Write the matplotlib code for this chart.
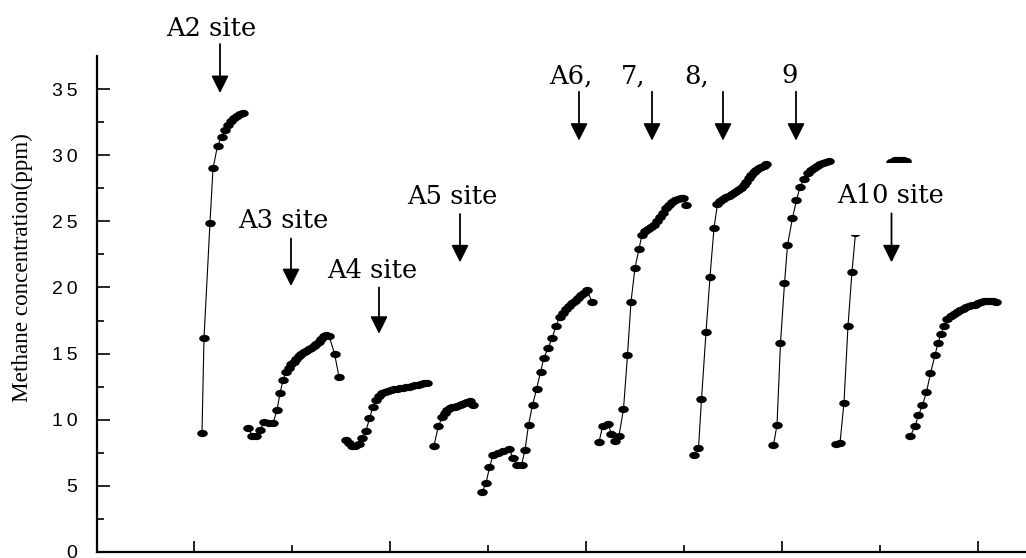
import numpy as np
import matplotlib
matplotlib.use('Agg')
import matplotlib.pyplot as plt
from matplotlib.path import Path
from matplotlib.transforms import Affine2D
from matplotlib.patches import Rectangle

# sampling position (arbitrary time units) and methane concentration (ppm), one run per site
a2_t = [105, 107, 113, 116, 120.5, 124.5, 128, 131, 134, 137, 140, 143, 146]
a2_c = [9.0, 16.2, 24.9, 29.0, 30.7, 31.4, 31.9, 32.3, 32.6, 32.8, 33.0, 33.1, 33.2]

a3_t = [151.5, 155, 159, 163, 167, 171.5, 176, 180, 183, 186, 189, 191.5, 194, 196.5,
        199, 201.5, 204, 206.5, 209, 211.5, 214, 216.5, 219, 221.5, 224, 226.5, 229,
        232, 237.5, 242]
a3_c = [9.4, 8.8, 8.8, 9.25, 9.8, 9.75, 9.75, 10.7, 12.0, 13.0, 13.6, 13.9, 14.2, 14.4,
        14.6, 14.8, 14.95, 15.1, 15.2, 15.35, 15.45, 15.6, 15.75, 15.9, 16.1, 16.3, 16.4,
        16.35, 15.0, 13.25]

a4_t = [248.5, 251.5, 255, 258.5, 262, 265.5, 269, 272.5, 276, 279, 282, 285, 288, 291,
        294, 297, 300, 303, 306, 309, 312, 315, 318, 321, 324, 327, 330]
a4_c = [8.5, 8.25, 8.05, 8.0, 8.2, 8.65, 9.15, 10.1, 11.0, 11.5, 11.8, 12.0, 12.1, 12.2,
        12.25, 12.3, 12.35, 12.4, 12.4, 12.45, 12.5, 12.55, 12.6, 12.65, 12.7, 12.75, 12.8]

a5_t = [337, 341.5, 345.5, 348, 350.5, 353, 355.5, 358, 360.5, 363, 365.5, 368, 370.5,
        373, 376.5]
a5_c = [8.05, 9.55, 10.2, 10.5, 10.7, 10.85, 10.95, 11.0, 11.05, 11.1, 11.2, 11.3, 11.35,
        11.4, 11.15]

a6_t = [385, 389, 392.5, 396, 401, 406, 412, 416, 420, 424.5, 428, 431.5, 435.5, 439.5,
        443.5, 447, 451, 455, 459, 463, 466, 469, 472, 475, 478, 481, 484, 487, 490, 495]
a6_c = [4.5, 5.2, 6.4, 7.3, 7.45, 7.6, 7.8, 7.1, 6.6, 6.6, 7.7, 9.6, 11.1, 12.3, 13.6,
        14.7, 15.4, 16.15, 17.1, 17.8, 18.1, 18.35, 18.6, 18.8, 19.0, 19.2, 19.4, 19.6,
        19.8, 18.9]

a7_t = [502, 505.5, 511, 514.5, 518.5, 522, 526.5, 530.5, 534, 538, 542, 545, 548, 551,
        554, 557, 560, 563, 566, 569, 572, 575, 578, 581, 584, 586.5, 589.5]
a7_c = [8.3, 9.5, 9.65, 8.95, 8.4, 8.8, 10.8, 14.9, 18.9, 21.5, 22.9, 24.0, 24.3, 24.45,
        24.6, 24.75, 25.0, 25.3, 25.65, 26.0, 26.25, 26.45, 26.6, 26.7, 26.8, 26.8, 26.2]

a8_t = [597, 601.5, 604.5, 609, 613, 617, 620.5, 623.5, 626.5, 629.5, 632.5, 635.5,
        638.5, 641.5, 644.5, 647, 649.5, 652, 654.5, 657, 659.5, 662, 664.5, 667, 669.5]
a8_c = [7.35, 7.85, 11.55, 16.6, 20.8, 24.5, 26.3, 26.55, 26.7, 26.85, 26.95, 27.1, 27.2,
        27.35, 27.5, 27.75, 28.0, 28.25, 28.5, 28.7, 28.85, 29.0, 29.1, 29.2, 29.3]

a9_t = [676.5, 680, 683.5, 687.5, 690.5, 695.5, 699.5, 703, 707, 711, 714, 717, 720, 723,
        726, 729, 732]
a9_c = [8.1, 9.6, 15.8, 20.3, 23.2, 25.25, 26.6, 27.6, 28.2, 28.65, 28.9, 29.05, 29.2,
        29.3, 29.4, 29.5, 29.55]

a10_t = [739, 743, 747, 751, 755, 758.5, 762, 766, 770, 775, 780, 785, 790, 794, 798,
         802, 806, 809]
a10_c = [8.15, 8.25, 11.3, 17.1, 21.2, 24.1, 26.4, 27.7, 28.4, 28.8, 29.0, 29.05, 29.1,
         29.45, 29.6, 29.65, 29.6, 29.55]

a11_t = [813.5, 818, 821.5, 825.5, 829.5, 833.5, 838, 841, 844, 847, 850.5, 854, 857,
         860, 863, 866, 869, 872, 875, 878, 881, 884, 887, 890, 893, 896, 899]
a11_c = [8.8, 9.5, 10.35, 11.1, 12.1, 13.5, 14.9, 15.8, 16.5, 17.05, 17.6, 17.85, 18.0,
         18.15, 18.3, 18.4, 18.5, 18.6, 18.65, 18.7, 18.8, 18.9, 18.95, 19.0, 18.95, 18.95,
         18.9]

runs = [(a2_t, a2_c), (a3_t, a3_c), (a4_t, a4_c), (a5_t, a5_c), (a6_t, a6_c),
        (a7_t, a7_c), (a8_t, a8_c), (a9_t, a9_c), (a10_t, a10_c), (a11_t, a11_c)]

# label, text x, text baseline y, arrow x, arrow tail y, arrow tip y
notes = [
    ('A2 site', 114, 39.0, 123, 38.4, 34.7),
    ('A3 site', 186, 24.5, 194, 23.7, 20.1),
    ('A4 site', 275, 20.7, 282, 20.0, 16.5),
    ('A5 site', 355, 26.3, 363, 25.55, 21.9),
    ('A6,', 474, 35.45, 482, 34.8, 31.1),
    ('7,', 536, 35.45, 555, 34.8, 31.1),
    ('8,', 600, 35.45, 626, 34.8, 31.1),
    ('9', 693, 35.45, 699, 34.8, 31.1),
    ('A10 site', 793.5, 26.35, 794.5, 25.6, 21.9),
]

fig = plt.figure(figsize=(10.26, 5.58), dpi=100)
ax = fig.add_axes([97 / 1026, 6 / 558, 929 / 1026, 496 / 558])

ell = Affine2D().scale(1.45, 1.0).transform_path(Path.unit_circle())
for t, c in runs:
    ax.plot(t, c, color='black', lw=0.8, marker=ell, markersize=7.6,
            markerfacecolor='black', markeredgewidth=0, zorder=2)

# white label box of the A10 annotation hides part of the run behind it
ax.add_patch(Rectangle((739, 24.0), 109, 5.4, facecolor='white', edgecolor='none', zorder=2.5))

for lab, tx, ty, axx, y0, y1 in notes:
    ax.text(tx, ty, lab, ha='center', va='baseline', fontsize=18.5,
            family='DejaVu Serif', zorder=4, clip_on=False)
    ax.annotate('', xy=(axx, y1), xytext=(axx, y0), zorder=4, annotation_clip=False,
                arrowprops=dict(arrowstyle='-|>,head_length=0.7,head_width=0.35',
                                mutation_scale=15, color='black', lw=1.3,
                                shrinkA=0, shrinkB=0))

ax.set_xlim(0, 929)
ax.set_ylim(0, 37.5)
for s in ('top', 'right'):
    ax.spines[s].set_visible(False)
for s in ('left', 'bottom'):
    ax.spines[s].set_linewidth(1.6)

yt = np.arange(0, 36, 5)
ax.set_yticks(yt)
ax.set_yticklabels(['\u2009'.join(str(v)) for v in yt], family='Liberation Sans', fontsize=14)
ax.set_yticks(np.arange(2.5, 36, 5), minor=True)
ax.set_xticks(np.arange(97, 929, 196))
ax.set_xticks(np.arange(195, 929, 196), minor=True)
ax.set_xticklabels([])
ax.tick_params(axis='y', which='major', direction='in', length=9.5, width=1.2, pad=14)
ax.tick_params(axis='y', which='minor', direction='in', length=5, width=1.2)
ax.tick_params(axis='x', which='major', direction='in', length=8, width=1.2)
ax.tick_params(axis='x', which='minor', direction='in', length=5, width=1.2)

ax.set_ylabel('Methane concentration(ppm)', family='Liberation Serif', fontsize=16.7)
ax.yaxis.set_label_coords(-0.069, 0.573)

fig.savefig('out.png', dpi=100)
